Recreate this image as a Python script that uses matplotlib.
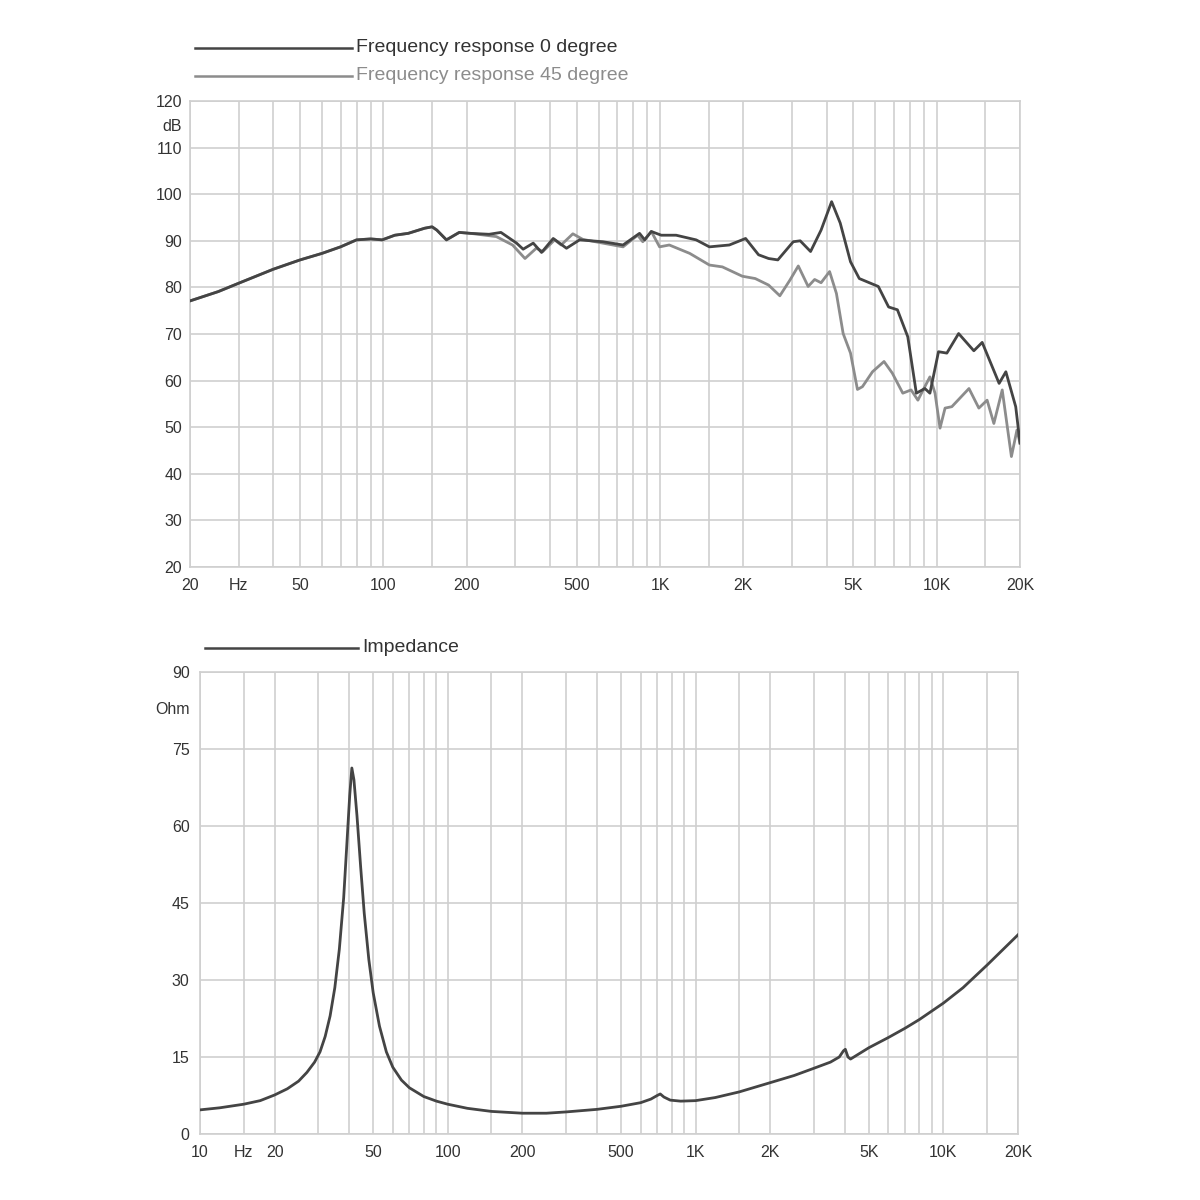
import numpy as np
import matplotlib
matplotlib.use("Agg")
import matplotlib.pyplot as plt
from matplotlib.lines import Line2D

plt.rcParams['font.family'] = ['Liberation Sans', 'DejaVu Sans']

# --- frequency response data (Hz, dB) ---
fr_freq = [20, 25.3, 30, 40, 50, 60, 70, 80, 90, 99, 110, 123, 141, 150, 156, 169, 188, 206,
           241, 266, 303, 320, 348, 373, 411, 459, 512, 621, 735, 843, 880, 930, 1010, 1143,
           1350, 1508, 1780, 2038, 2270, 2468, 2665, 3030, 3210, 3500, 3820, 4170, 4480, 4880,
           5250, 6150, 6700, 7210, 7860, 8440, 9060, 9450, 10150, 10880, 12000, 13620, 14600,
           16810, 17780, 19300, 20000]
fr_0deg = [77.1, 79.1, 80.9, 83.9, 85.9, 87.3, 88.7, 90.2, 90.4, 90.2, 91.2, 91.6, 92.7, 93.0,
           92.3, 90.2, 91.8, 91.6, 91.4, 91.8, 89.5, 88.2, 89.5, 87.5, 90.5, 88.4, 90.2, 89.8,
           89.1, 91.6, 90.2, 92.0, 91.2, 91.2, 90.2, 88.7, 89.1, 90.5, 87.0, 86.2, 85.9, 89.8,
           90.0, 87.7, 92.3, 98.4, 93.8, 85.5, 81.9, 80.2, 75.8, 75.2, 69.4, 57.3, 58.3, 57.3,
           66.2, 65.9, 70.1, 66.4, 68.2, 59.4, 61.9, 54.4, 46.6]

fr45_freq = [20, 25.3, 30, 40, 50, 60, 70, 80, 90, 99, 110, 123, 141, 150, 156, 169, 188, 206,
             256, 293, 325, 357, 377, 416, 439, 484, 526, 621, 735, 830, 866, 930, 996, 1080,
             1280, 1508, 1680, 1983, 2208, 2468, 2710, 2950, 3160, 3430, 3620, 3820, 4100, 4340,
             4590, 4880, 5170, 5390, 5860, 6450, 6910, 7540, 8080, 8550, 9060, 9450, 9860,
             10280, 10720, 11340, 13080, 14200, 15210, 16090, 17250, 18620, 19500, 20000]
fr_45deg = [77.1, 79.1, 80.9, 83.9, 85.9, 87.3, 88.7, 90.2, 90.4, 90.2, 91.2, 91.6, 92.7, 93.0,
            92.3, 90.2, 91.8, 91.6, 90.9, 89.1, 86.2, 88.4, 87.7, 90.2, 89.1, 91.5, 90.3, 89.5,
            88.7, 91.2, 89.8, 92.0, 88.7, 89.1, 87.3, 84.8, 84.4, 82.4, 81.9, 80.5, 78.2, 81.6,
            84.6, 80.2, 81.7, 81.0, 83.4, 78.7, 70.1, 65.9, 58.1, 58.7, 61.9, 64.1, 61.6, 57.3,
            58.0, 55.8, 58.7, 60.8, 57.3, 49.8, 54.1, 54.4, 58.3, 54.1, 55.8, 50.8, 58.0, 43.7,
            49.4, 46.6]

# --- impedance data (Hz, Ohm) ---
imp_freq = [10, 12, 15, 17.5, 20, 22.5, 25, 27, 29, 30.5, 32, 33.5, 35, 36.5, 38, 39.2, 40.2,
            41, 41.8, 43, 44.5, 46, 48, 50, 53, 56.5, 60, 65, 70, 80, 90, 100, 120, 150, 200,
            250, 300, 400, 500, 600, 660, 700, 720, 745, 790, 870, 1000, 1200, 1500, 2000, 2500,
            3000, 3500, 3800, 3950, 4020, 4120, 4220, 5000, 6000, 7000, 8000, 10000, 12000,
            15000, 20000]
imp_ohm = [4.7, 5.1, 5.8, 6.5, 7.6, 8.8, 10.3, 12.0, 14.0, 16.0, 19.0, 23.0, 28.5, 36.0, 46.0,
           57.0, 66.0, 71.3, 69.0, 62.0, 52.0, 43.0, 34.0, 27.5, 21.0, 16.0, 13.0, 10.5, 9.0,
           7.3, 6.4, 5.8, 5.0, 4.4, 4.05, 4.05, 4.3, 4.8, 5.4, 6.1, 6.8, 7.5, 7.8, 7.2, 6.6,
           6.4, 6.5, 7.1, 8.2, 10.0, 11.4, 12.8, 14.0, 15.0, 16.2, 16.5, 15.0, 14.6, 16.8,
           18.8, 20.6, 22.3, 25.5, 28.5, 32.9, 38.8]

top_grid = [20, 30, 40, 50, 60, 70, 80, 90, 100, 150, 200, 300, 400, 500, 600, 700, 800, 900,
            1000, 1500, 2000, 3000, 4000, 5000, 6000, 7000, 8000, 9000, 10000, 15000, 20000]
top_labels = {20: '20', 30: 'Hz', 50: '50', 100: '100', 200: '200', 500: '500', 1000: '1K',
              2000: '2K', 5000: '5K', 10000: '10K', 20000: '20K'}
bot_grid = [10, 15] + top_grid
bot_labels = dict(top_labels)
bot_labels.pop(30)
bot_labels.update({10: '10', 15: 'Hz'})

dark = '#444444'
light = '#8c8c8c'
gridc = '#cfcfcf'
textc = '#333333'

fig = plt.figure(figsize=(12, 12), dpi=100)
ax1 = fig.add_axes([190/1200, 1-567/1200, 830/1200, 466/1200])
ax2 = fig.add_axes([200/1200, 1-1134/1200, 818/1200, 462/1200])


def style(ax, grid, labels, yticks, ypad):
    ax.set_xscale('log')
    ax.set_xticks(grid)
    ax.set_xticklabels([labels.get(g, '') for g in grid])
    ax.xaxis.set_minor_locator(matplotlib.ticker.NullLocator())
    ax.set_yticks(yticks)
    ax.grid(True, color=gridc, linewidth=1.2)
    ax.set_axisbelow(True)
    for s in ax.spines.values():
        s.set_color(gridc)
        s.set_linewidth(1.2)
    ax.tick_params(length=0, labelsize=11.5, colors=textc, pad=8)
    ax.tick_params(axis='y', pad=ypad)


# top chart
ax1.semilogx(fr45_freq, fr_45deg, color=light, lw=2.0, zorder=3)
ax1.semilogx(fr_freq, fr_0deg, color=dark, lw=2.0, zorder=4)
ax1.set_xlim(20, 20000)
ax1.set_ylim(20, 120)
style(ax1, top_grid, top_labels, list(range(20, 121, 10)), 5.5)
ax1.text(-8/830, 114.5, 'dB', transform=ax1.get_yaxis_transform(), ha='right', va='center',
         fontsize=11.5, color=textc)

# bottom chart
ax2.semilogx(imp_freq, imp_ohm, color=dark, lw=2.0, zorder=3)
ax2.set_xlim(10, 20000)
ax2.set_ylim(0, 90)
style(ax2, bot_grid, bot_labels, list(range(0, 91, 15)), 7.5)
ax2.text(-10/818, 82.6, 'Ohm', transform=ax2.get_yaxis_transform(), ha='right', va='center',
         fontsize=11.5, color=textc)

# legends drawn as in the original
fig.add_artist(Line2D([195/1200, 352/1200], [1-48/1200, 1-48/1200], color=dark, lw=1.8))
fig.text(356/1200, 1-48/1200, 'Frequency response 0 degree', fontsize=14, color=textc,
         va='center')
fig.add_artist(Line2D([195/1200, 352/1200], [1-76/1200, 1-76/1200], color=light, lw=1.8))
fig.text(356/1200, 1-76/1200, 'Frequency response 45 degree', fontsize=14, color=light,
         va='center')
fig.add_artist(Line2D([205/1200, 358/1200], [1-648/1200, 1-648/1200], color=dark, lw=1.8))
fig.text(362/1200, 1-648/1200, 'Impedance', fontsize=14, color=textc, va='center')

fig.savefig('out.png', dpi=100, facecolor='white')
